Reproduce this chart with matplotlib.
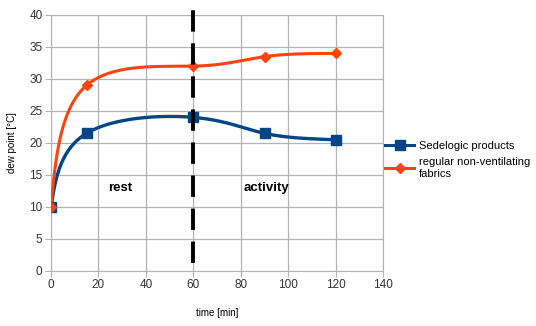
import numpy as np
import matplotlib.pyplot as plt

plt.rcParams['font.family'] = ['Liberation Sans', 'DejaVu Sans']

time = [0, 15, 60, 90, 120]
sedelogic = [10, 21.5, 24, 21.5, 20.5]
regular = [10, 29, 32, 33.5, 34]
labels = ["Sedelogic products", "regular non-ventilating\nfabrics"]


def natural_spline(t, v, tt):
    # natural cubic spline through (t, v), evaluated at tt
    t = np.asarray(t, float)
    v = np.asarray(v, float)
    n = len(t)
    h = np.diff(t)
    A = np.zeros((n, n))
    b = np.zeros(n)
    A[0, 0] = A[-1, -1] = 1
    for i in range(1, n - 1):
        A[i, i - 1] = h[i - 1]
        A[i, i] = 2 * (h[i - 1] + h[i])
        A[i, i + 1] = h[i]
        b[i] = 3 * ((v[i + 1] - v[i]) / h[i] - (v[i] - v[i - 1]) / h[i - 1])
    c = np.linalg.solve(A, b)
    idx = np.clip(np.searchsorted(t, tt) - 1, 0, n - 2)
    dt = tt - t[idx]
    bb = (v[idx + 1] - v[idx]) / h[idx] - h[idx] * (2 * c[idx] + c[idx + 1]) / 3
    d = (c[idx + 1] - c[idx]) / (3 * h[idx])
    return v[idx] + bb * dt + c[idx] * dt ** 2 + d * dt ** 3


def smooth(x, y):
    # parametric spline with uniform parameter (like the office spline)
    s = np.arange(len(x), dtype=float)
    ss = np.linspace(0, s[-1], 400)
    return natural_spline(s, x, ss), natural_spline(s, y, ss)


fig = plt.figure(figsize=(5.36, 3.26), dpi=100)
ax = fig.add_axes([0.095, 0.169, 0.62, 0.785])

blue = "#004586"
orange = "#ff420e"

xs, ys = smooth(time, sedelogic)
ax.plot(xs, ys, color=blue, lw=2.4, zorder=3)
ax.plot(time, sedelogic, 's', color=blue, ms=7, zorder=4)
xs, ys = smooth(time, regular)
ax.plot(xs, ys, color=orange, lw=2.2, zorder=3)
ax.plot(time, regular, 'D', color=orange, ms=5, zorder=4)

h1, = ax.plot([], [], color=blue, lw=2.2, marker='s', ms=7)
h2, = ax.plot([], [], color=orange, lw=2.2, marker='D', ms=5)
fig.legend([h1, h2], labels, loc='center left', bbox_to_anchor=(0.70, 0.51),
           frameon=False, fontsize=8, handlelength=2.6, handletextpad=0.4,
           labelspacing=0.55)

ax.plot([60, 60], [1.2, 40.8], color='black', lw=2.8, ls=(0, (5.5, 3)),
        clip_on=False, zorder=5)
ax.text(29, 13, "rest", fontsize=9.5, fontweight='bold', ha='center', va='center')
ax.text(91, 13, "activity", fontsize=9.5, fontweight='bold', ha='center', va='center')

ax.set_xlim(0, 140)
ax.set_ylim(0, 40)
ax.set_xticks(range(0, 141, 20))
ax.set_yticks(range(0, 41, 5))
ax.grid(True, color='#b3b3b3', lw=0.9)
ax.set_axisbelow(True)
for sp in ax.spines.values():
    sp.set_color('#b3b3b3')
ax.tick_params(length=4, color='#b3b3b3', labelsize=8.5, labelcolor='#333333', pad=2)
ax.set_xlabel("time [min]", fontsize=7, labelpad=12)
ax.set_ylabel("dew point [°C]", fontsize=7, labelpad=9)

fig.savefig("out.png", dpi=100)
